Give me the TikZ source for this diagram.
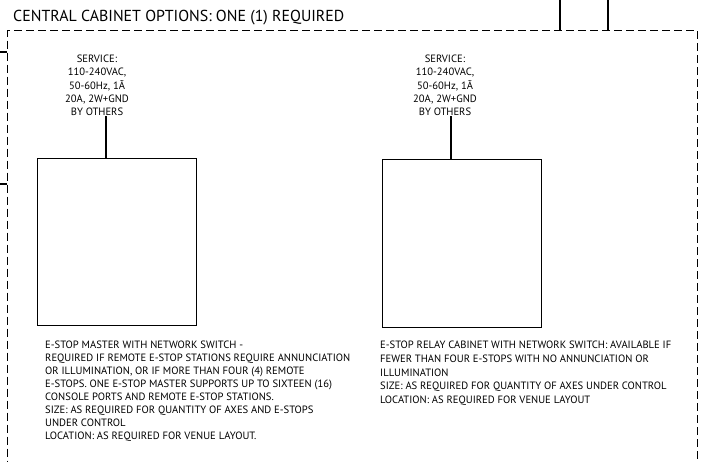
\documentclass[tikz,border=0pt]{standalone}
\usepackage{fontspec}
\setmainfont{PT Sans}
\usetikzlibrary{positioning}

\tikzset{
  zone/.style={draw, line width=1pt, dash pattern=on 8pt off 4pt, inner sep=0pt},
  cabinet/.style={draw, line width=1.3pt, inner sep=0pt, minimum width=159pt},
  feed/.style={line width=1.3pt},
  svc/.style={align=center, inner sep=0pt, font=\fontsize{10.6}{13.3}\selectfont},
  note/.style={align=left, inner sep=0pt, font=\fontsize{10.6}{13}\selectfont},
}

\begin{document}
\begin{tikzpicture}[x=1pt, y=-1pt]
  \useasboundingbox (0,0) rectangle (704,461);

  \node[anchor=base west, inner sep=0pt, font=\fontsize{15.9}{18}\selectfont] (title) at (13,21) {CENTRAL CABINET OPTIONS: ONE (1) REQUIRED};
  \node[zone, anchor=north west, minimum width=690pt, minimum height=470pt] (zone) at (7,30) {};

  % feeds coming in from outside
  \coordinate (topA) at (560,0);
  \coordinate (topB) at (608,0);
  \coordinate (sideA) at (0,52);
  \coordinate (sideB) at (0,184);
  \draw[feed] (topA) -- (topA |- zone.north);
  \draw[feed] (topB) -- (topB |- zone.north);
  \draw[feed] (sideA) -- (sideA -| zone.west);
  \draw[feed] (sideB) -- (sideB -| zone.west);

  % e-stop master
  \node[cabinet, anchor=north west, minimum height=167pt] (master) at (37,158) {};
  \node[svc, anchor=south] (svcA) at (97,116) {SERVICE:\\110-240VAC,\\50-60Hz, 1Ã\\20A, 2W+GND\\BY OTHERS};
  \coordinate (dropA) at (106,0);
  \draw[feed] (svcA.south -| dropA) -- (master.north -| dropA);
  \node[note, anchor=north west] (masterTxt) at (45,341) {E-STOP MASTER WITH NETWORK SWITCH -\\
    REQUIRED IF REMOTE E-STOP STATIONS REQUIRE ANNUNCIATION\\
    OR ILLUMINATION, OR IF MORE THAN FOUR (4) REMOTE\\
    E-STOPS. ONE E-STOP MASTER SUPPORTS UP TO SIXTEEN (16)\\
    CONSOLE PORTS AND REMOTE E-STOP STATIONS.\\
    SIZE: AS REQUIRED FOR QUANTITY OF AXES AND E-STOPS\\
    UNDER CONTROL\\
    LOCATION: AS REQUIRED FOR VENUE LAYOUT.};

  % e-stop relay cabinet
  \node[cabinet, anchor=north west, minimum height=168pt] (relay) at (382,159) {};
  \node[svc, anchor=south] (svcB) at (445,116) {SERVICE:\\110-240VAC,\\50-60Hz, 1Ã\\20A, 2W+GND\\BY OTHERS};
  \coordinate (dropB) at (451,0);
  \draw[feed] (svcB.south -| dropB) -- (relay.north -| dropB);
  \node[note, anchor=north west, font=\fontsize{10.6}{13.7}\selectfont] (relayTxt) at (380,341) {E-STOP RELAY CABINET WITH NETWORK SWITCH: AVAILABLE IF\\
    FEWER THAN FOUR E-STOPS WITH NO ANNUNCIATION OR\\
    ILLUMINATION\\
    SIZE: AS REQUIRED FOR QUANTITY OF AXES UNDER CONTROL\\
    LOCATION: AS REQUIRED FOR VENUE LAYOUT};
\end{tikzpicture}
\end{document}
